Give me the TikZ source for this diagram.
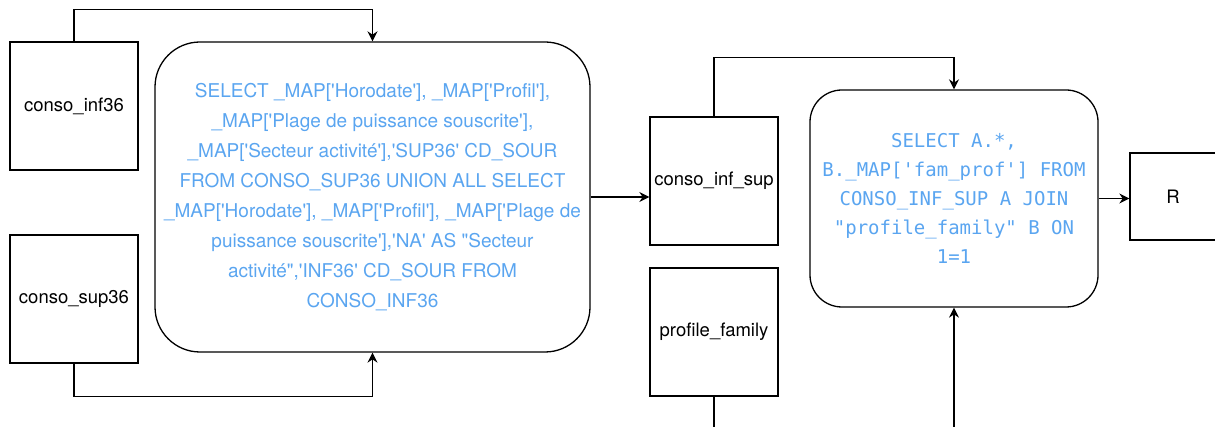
\documentclass[tikz,border=0pt]{standalone}
\usepackage{fontspec}
\usetikzlibrary{arrows.meta}
\newfontfamily\boxsans{TeX Gyre Heros}
\newfontfamily\sqlmono{DejaVu Sans Mono}
\definecolor{sqlblue}{RGB}{90, 165, 240}

\begin{document}
\begin{tikzpicture}[x=1pt, y=-1pt,
    table/.style={draw, line width=1.3pt, minimum width=128pt, minimum height=128pt, inner sep=0pt, font=\boxsans\fontsize{18.5}{22}\selectfont},
    query/.style={draw, line width=1.3pt, rounded corners=#1, align=center, text=sqlblue, inner sep=0pt},
    flow/.style={line width=1.3pt, -{Stealth[length=10pt, width=10pt]}}]
  \useasboundingbox (0,0) rectangle (1215,427);

  \node[table] (inf36) at (74,106) {conso\_inf36};
  \node[table] (sup36) at (74,299) {conso\_sup36};
  \node[query=45pt, minimum width=435pt, minimum height=310pt, font=\boxsans\fontsize{19}{30}\selectfont] (union) at (372.5,197) {SELECT \_MAP['Horodate'], \_MAP['Profil'],\\
    \_MAP['Plage de puissance souscrite'],\\
    \_MAP['Secteur activité'],'SUP36' CD\_SOUR\\
    FROM CONSO\_SUP36 UNION ALL SELECT\\
    \_MAP['Horodate'], \_MAP['Profil'], \_MAP['Plage de\\
    puissance souscrite'],'NA' AS "Secteur\\
    activité",'INF36' CD\_SOUR FROM\\
    CONSO\_INF36};
  \node[table] (infsup) at (714,181) {conso\_inf\_sup};
  \node[table] (family) at (714,332) {profile\_family};
  \node[query=32pt, minimum width=288pt, minimum height=217pt, font=\sqlmono\fontsize{19}{29}\selectfont] (join) at (954,198.5) {SELECT A.*,\\
    B.\_MAP['fam\_prof'] FROM\\
    CONSO\_INF\_SUP A JOIN\\
    "profile\_family" B ON\\
    1=1};
  \node[table, minimum width=86pt, minimum height=87pt] (res) at (1173,196.5) {R};

  \draw[flow] (inf36.north) -- ++(0,-32) -| (union.north);
  \draw[flow] (sup36.south) -- ++(0,33) -| (union.south);
  \draw[flow] (union.east) -- (union.east -| infsup.west);
  \draw[flow] (infsup.north) -- ++(0,-59) -| (join.north);
  \draw[flow] (family.south) -- ++(0,45) -| (join.south);
  \draw[flow] (join.east) -- (join.east -| res.west);
\end{tikzpicture}
\end{document}
